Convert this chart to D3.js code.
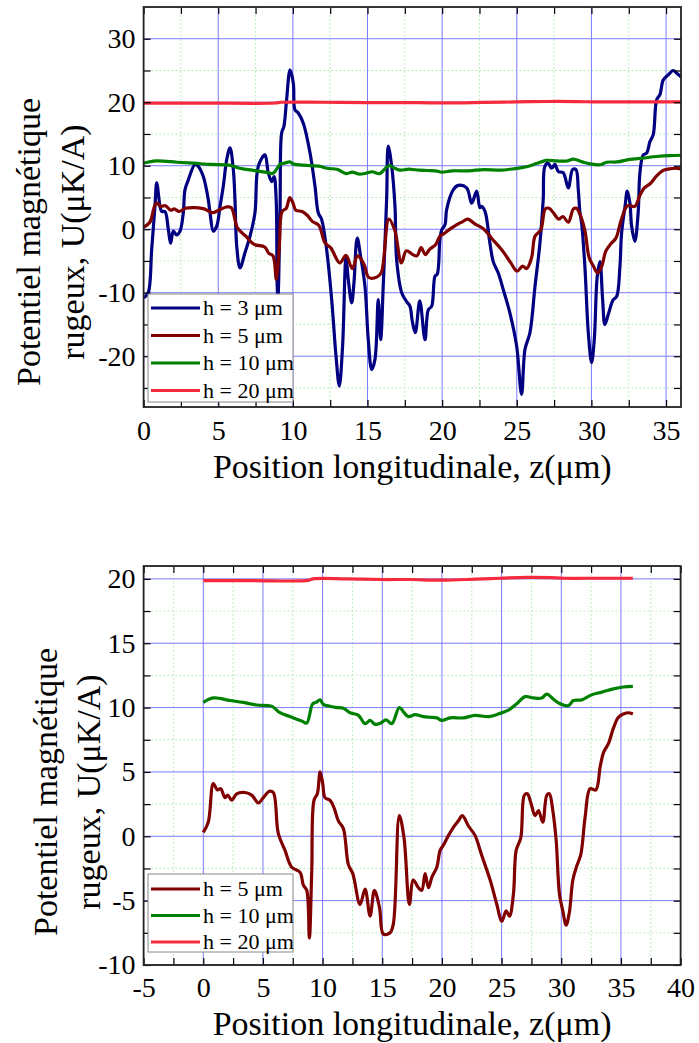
<!DOCTYPE html>
<html>
<head>
<meta charset="utf-8">
<script src="https://cdn.jsdelivr.net/npm/d3@7"></script>
<style>
body { margin: 0; background: #fff; }
text { font-family: "Liberation Serif", "Times New Roman", serif; fill: #000; }
.tick text { font-size: 28px; }
</style>
</head>
<body>
<svg width="699" height="1043"></svg>
<script>
// ---- data: [z (µm), U (µK/A)] ----
var h3Data = [[0.03,-10.8],[0.31,-10.0],[0.54,-3.2],[0.76,3.6],[0.88,7.3],[1.1,3.6],[1.21,2.8],[1.43,2.8],
  [1.66,-0.1],[1.81,-2.2],[1.99,-0.3],[2.21,-0.9],[2.44,-0.3],[2.66,2.6],[2.77,6.2],[3.0,7.8],[3.44,10.2],
  [3.66,9.9],[4.0,8.3],[4.33,4.7],[4.45,2.6],[4.67,-0.3],[4.9,0.5],[5.12,3.6],[5.34,6.8],[5.57,11.0],
  [5.79,12.8],[6.01,9.4],[6.12,4.7],[6.24,-2.7],[6.46,-6.1],[6.79,-3.7],[7.13,-1.1],[7.46,2.6],[7.68,9.9],
  [8.13,11.7],[8.35,8.9],[8.58,7.5],[8.74,8.3],[8.88,4.7],[8.95,-9.0],[9.0,-10.8],[9.14,3.1],[9.25,15.2],
  [9.4,16.2],[9.58,20.4],[9.81,25.1],[10.03,23.0],[10.14,18.8],[10.36,18.3],[10.7,16.7],[11.15,12.0],
  [11.48,6.8],[11.7,2.6],[11.93,1.5],[12.26,-3.2],[12.6,-11.1],[12.89,-20.0],[13.11,-24.7],[13.33,-18.4],
  [13.56,-4.5],[13.71,-7.9],[13.94,-11.6],[14.09,-8.5],[14.31,-1.4],[14.54,-4.3],[14.83,-9.0],[15.05,-17.4],
  [15.28,-22.1],[15.5,-20.5],[15.72,-11.1],[15.88,-17.4],[16.06,-8.5],[16.28,4.7],[16.39,13.1],[16.62,9.9],
  [16.84,3.6],[16.95,-4.8],[17.29,-10.0],[17.62,-11.4],[17.84,-12.1],[18.0,-14.5],[18.2,-16.3],[18.5,-11.3],
  [18.85,-17.4],[19.07,-12.7],[19.3,-12.1],[19.52,-7.4],[19.67,-7.1],[19.85,-1.6],[19.97,-0.1],[20.19,0.7],
  [20.3,3.1],[20.74,6.2],[21.08,6.9],[21.64,6.5],[21.98,4.1],[22.31,6.0],[22.53,3.4],[22.64,3.6],[22.87,2.8],
  [23.2,-2.2],[23.42,-5.1],[23.76,-6.9],[24.09,-9.5],[24.54,-13.2],[24.99,-18.4],[25.32,-26.0],[25.55,-18.9],
  [25.88,-16.3],[26.22,-9.0],[26.55,-2.2],[26.77,4.7],[26.88,9.9],[27.1,10.4],[27.33,9.6],[27.55,10.2],
  [27.78,9.1],[28.11,8.9],[28.45,6.5],[28.74,9.4],[28.96,9.4],[29.12,6.2],[29.23,2.6],[29.34,1.0],
  [29.56,-5.8],[29.79,-16.3],[30.01,-21.0],[30.19,-17.4],[30.39,-7.4],[30.57,-5.1],[30.75,-11.1],[30.9,-15.0],
  [31.13,-13.4],[31.46,-11.1],[31.69,-10.6],[31.91,-5.8],[32.02,-0.6],[32.25,3.6],[32.4,6.0],[32.58,4.1],
  [32.69,0.5],[32.91,-1.9],[33.13,2.6],[33.25,8.9],[33.47,11.7],[33.7,12.0],[33.92,13.8],[34.14,14.9],
  [34.37,20.4],[34.59,21.2],[34.81,23.5],[35.14,24.3],[35.48,25.0],[35.7,24.6],[36.0,24.0]];

var h5Data = [[0,0.3],[0.42,1.1],[0.84,4.1],[1.18,3.6],[1.46,3.7],[1.82,3.0],[2.05,3.2],[2.38,2.8],[2.8,3.3],
  [3.5,3.4],[4.06,3.2],[4.62,2.6],[5.03,3.0],[5.54,3.5],[5.87,3.4],[6.29,0.2],[6.85,-1.1],[7.41,-2.4],
  [8.11,-2.8],[8.39,-3.8],[8.67,-4.2],[8.89,-7.9],[9.09,-2.7],[9.28,2.8],[9.56,3.3],[9.79,5.0],[10.01,4.1],
  [10.2,3.0],[10.62,2.8],[10.96,2.2],[11.32,1.2],[11.74,0.6],[12.16,-2.2],[12.53,-2.9],[13.14,-5.3],
  [13.56,-4.1],[13.98,-6.2],[14.34,-4.2],[14.76,-5.5],[15.09,-7.6],[15.65,-7.5],[15.93,-6.8],[16.43,1.6],
  [16.82,-0.1],[17.27,-5.3],[17.6,-3.4],[18.03,-4.0],[18.31,-4.2],[18.59,-2.9],[18.87,-4.0],[19.15,-3.2],
  [19.57,-2.4],[19.85,-1.1],[20.12,-0.7],[20.54,0.05],[20.96,0.7],[21.38,1.2],[21.71,1.6],[22.22,0.8],
  [22.78,0.05],[23.34,-1.5],[24.04,-3.4],[24.6,-5.3],[25.02,-6.6],[25.38,-5.8],[25.66,-6.2],[25.99,-4.5],
  [26.22,-1.1],[26.61,-0.1],[26.91,3.2],[27.16,3.3],[27.45,2.6],[27.81,1.6],[28.09,2.0],[28.45,1.1],
  [28.79,3.2],[29.0,3.3],[29.29,2.0],[29.57,-0.3],[29.85,-4.5],[30.13,-5.8],[30.41,-6.9],[30.68,-5.9],
  [30.97,-3.4],[31.3,-2.3],[31.64,-1.4],[32.0,1.5],[32.42,3.7],[32.9,3.6],[33.26,5.4],[33.54,6.5],
  [33.95,7.2],[34.37,8.4],[34.79,9.25],[35.21,9.5],[35.63,9.6],[36.0,9.5]];

var h10Data = [[0,10.4],[0.84,10.75],[2.24,10.55],[3.36,10.4],[4.48,10.2],[5.74,10.1],[6.43,9.6],[7.27,9.3],
  [8.25,8.95],[8.67,8.8],[9.17,10.3],[9.45,10.4],[9.79,10.6],[10.06,10.25],[10.62,10.1],[11.19,10.0],
  [11.74,9.95],[12.3,9.6],[13.0,9.4],[13.56,8.75],[13.98,9.0],[14.4,8.7],[14.87,8.8],[15.32,9.05],[15.8,8.75],
  [16.43,10.0],[16.83,9.6],[17.19,9.3],[17.75,9.45],[18.45,9.3],[19.0,9.25],[19.57,9.2],[19.99,9.0],
  [20.68,9.2],[21.8,9.2],[22.78,9.4],[23.9,9.3],[24.87,9.55],[25.57,9.8],[26.27,10.3],[26.97,10.85],
  [27.67,10.75],[28.37,10.75],[28.79,11.05],[29.34,10.65],[29.9,10.3],[30.6,10.15],[31.02,10.55],
  [31.72,10.6],[32.56,11.0],[33.4,11.2],[34.37,11.45],[35.21,11.6],[36.0,11.65]];

var h20Data = [[0,19.87],[4,19.87],[8.8,19.88],[9.2,20.0],[12,20.0],[15,19.95],[17.3,19.95],[20,19.9],
  [22.8,19.98],[24.9,20.05],[27.1,20.12],[29.1,20.1],[30.2,20.05],[33,20.05],[36,20.05]];

var topXTicks = [0, 5, 10, 15, 20, 25, 30, 35];
var topXMinor = [2.5, 7.5, 12.5, 17.5, 22.5, 27.5, 32.5];
var topYTicks = [-20, -10, 0, 10, 20, 30];
var topYMinor = [-25, -15, -5, 5, 15, 25];
var botXTicks = [-5, 0, 5, 10, 15, 20, 25, 30, 35, 40];
var botXMinor = [-2.5, 2.5, 7.5, 12.5, 17.5, 22.5, 27.5, 32.5, 37.5];
var botYTicks = [-10, -5, 0, 5, 10, 15, 20];
var botYMinor = [-7.5, -2.5, 2.5, 7.5, 12.5, 17.5];

var seriesStyle = {
  h3: {label: 'h = 3 \u03bcm', color: '#000080', data: h3Data},
  h5: {label: 'h = 5 \u03bcm', color: '#800000', data: h5Data},
  h10: {label: 'h = 10 \u03bcm', color: '#008000', data: h10Data},
  h20: {label: 'h = 20 \u03bcm', color: '#f52a3c', data: h20Data}
};

var svg = d3.select('svg');
var xTitle = 'Position longitudinale, z(\u03bcm)';
var yTitle1 = 'Potentiel magn\u00e9tique';
var yTitle2 = 'rugeux, U(\u03bcK/A)';

function drawPanel(p, id) {
  var g = svg.append('g').attr('transform', 'translate(' + [p.left, p.top] + ')');
  var x = d3.scaleLinear().domain(p.xDomain).range([0, p.width]);
  var y = d3.scaleLinear().domain(p.yDomain).range([p.height, 0]);

  // dotted green minor grid
  g.selectAll('.vminor').data(p.xMinor).enter().append('line')
    .attr('x1', x).attr('x2', x).attr('y1', 0).attr('y2', p.height)
    .attr('stroke', '#a6eaa6').attr('stroke-dasharray', '1.5,2.5');
  g.selectAll('.hminor').data(p.yMinor).enter().append('line')
    .attr('y1', y).attr('y2', y).attr('x1', 0).attr('x2', p.width)
    .attr('stroke', '#a6eaa6').attr('stroke-dasharray', '1.5,2.5');
  // blue major grid
  g.selectAll('.vmajor').data(p.xTicks).enter().append('line')
    .attr('x1', x).attr('x2', x).attr('y1', 0).attr('y2', p.height)
    .attr('stroke', '#7a7aff').attr('stroke-width', 1);
  g.selectAll('.hmajor').data(p.yTicks).enter().append('line')
    .attr('y1', y).attr('y2', y).attr('x1', 0).attr('x2', p.width)
    .attr('stroke', '#7a7aff').attr('stroke-width', 1);

  svg.append('clipPath').attr('id', 'clip' + id).append('rect')
    .attr('width', p.width).attr('height', p.height);

  var line = d3.line()
    .curve(d3.curveCatmullRom.alpha(0.5))
    .x(function(d) { return x(d[0]); })
    .y(function(d) { return y(d[1]); });

  var plot = g.append('g').attr('clip-path', 'url(#clip' + id + ')');
  p.series.forEach(function(s) {
    plot.append('path')
      .datum(s.data)
      .attr('d', line)
      .attr('fill', 'none')
      .attr('stroke', s.color)
      .attr('stroke-width', 3.2)
      .attr('stroke-linejoin', 'round');
  });

  var fmt = function(d) { return String(d); };
  var allX = p.xTicks.concat(p.xMinor), allY = p.yTicks.concat(p.yMinor);

  g.append('g').attr('transform', 'translate(0,' + p.height + ')')
    .call(d3.axisBottom(x).tickValues(p.xTicks).tickSize(-7).tickSizeOuter(0).tickPadding(p.xPad).tickFormat(fmt));
  g.append('g').attr('transform', 'translate(0,' + p.height + ')')
    .call(d3.axisBottom(x).tickValues(p.xMinor).tickSize(-7).tickSizeOuter(0).tickFormat(''));
  g.append('g').call(d3.axisTop(x).tickValues(allX).tickSize(-7).tickSizeOuter(0).tickFormat(''));
  g.append('g')
    .call(d3.axisLeft(y).tickValues(p.yTicks).tickSize(-7).tickSizeOuter(0).tickPadding(p.yPad).tickFormat(fmt));
  g.append('g').call(d3.axisLeft(y).tickValues(p.yMinor).tickSize(-7).tickSizeOuter(0).tickFormat(''));
  g.append('g').attr('transform', 'translate(' + p.width + ',0)')
    .call(d3.axisRight(y).tickValues(allY).tickSize(-7).tickSizeOuter(0).tickFormat(''));
  g.selectAll('.domain').remove();
  g.selectAll('.tick line').attr('stroke', '#000').attr('stroke-width', 1.2);

  g.append('rect').attr('width', p.width).attr('height', p.height)
    .attr('fill', 'none').attr('stroke', '#222').attr('stroke-width', 1.8);

  // legend
  var lg = svg.append('g').attr('transform', 'translate(' + [p.legend.x, p.legend.y] + ')');
  lg.append('rect').attr('width', p.legend.w).attr('height', p.legend.h)
    .attr('fill', '#fff').attr('stroke', '#888').attr('stroke-width', 1);
  p.series.forEach(function(s, i) {
    var yy = p.legend.first + i * p.legend.step;
    lg.append('line').attr('x1', 3).attr('x2', 52).attr('y1', yy).attr('y2', yy)
      .attr('stroke', s.color).attr('stroke-width', 3);
    lg.append('text').attr('x', 55).attr('y', yy).attr('dy', '0.33em')
      .style('font-size', '22px').text(s.label);
  });

  // axis titles
  svg.append('text').attr('x', p.left + p.width / 2).attr('y', p.xTitleY)
    .attr('text-anchor', 'middle').style('font-size', '34px').text(xTitle);
  svg.append('text').attr('transform', 'translate(' + [p.yTitleX1, p.yTitleC] + ') rotate(-90)')
    .attr('text-anchor', 'middle').style('font-size', '34px').text(yTitle1);
  svg.append('text').attr('transform', 'translate(' + [p.yTitleX2, p.yTitleC] + ') rotate(-90)')
    .attr('text-anchor', 'middle').style('font-size', '34px').text(yTitle2);
}

drawPanel({
  left: 143.6, top: 7, width: 537.4, height: 400,
  xDomain: [0, 36], yDomain: [-28, 35],
  xTicks: topXTicks, xMinor: topXMinor, yTicks: topYTicks, yMinor: topYMinor,
  xPad: 13, yPad: 8,
  series: [seriesStyle.h3, seriesStyle.h5, seriesStyle.h10, seriesStyle.h20],
  legend: {x: 148, y: 294, w: 145, h: 108, first: 14, step: 27.5},
  xTitleY: 478, yTitleX1: 40, yTitleX2: 84, yTitleC: 242
}, 'top');

drawPanel({
  left: 143.6, top: 566, width: 537, height: 399,
  xDomain: [-5, 40], yDomain: [-10, 21],
  xTicks: botXTicks, xMinor: botXMinor, yTicks: botYTicks, yMinor: botYMinor,
  xPad: 12, yPad: 8,
  series: [seriesStyle.h5, seriesStyle.h10, seriesStyle.h20],
  legend: {x: 148, y: 874, w: 145, h: 78, first: 15, step: 26.5},
  xTitleY: 1035, yTitleX1: 57, yTitleX2: 100, yTitleC: 792
}, 'bot');
</script>
</body>
</html>
